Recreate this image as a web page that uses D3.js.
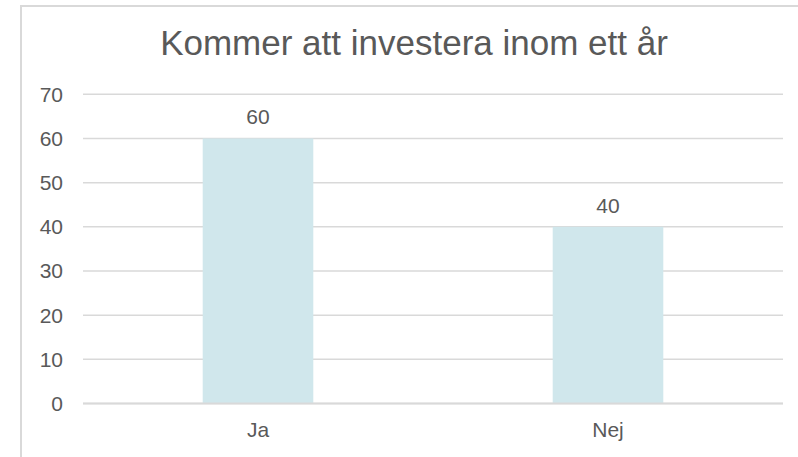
<!DOCTYPE html>
<html lang="sv">
<head>
<meta charset="utf-8">
<title>Kommer att investera inom ett år</title>
<script src="https://cdn.jsdelivr.net/npm/d3@7"></script>
<style>
  body { margin: 0; background: #fff; }
  text { font-family: Arial, "Liberation Sans", sans-serif; fill: #595959; }
</style>
</head>
<body>
<script>
// chart data
const categories = ["Ja", "Nej"];
const values = [60, 40];
const yTicks = [0, 10, 20, 30, 40, 50, 60, 70];
const chartTitle = "Kommer att investera inom ett år";

const W = 798, H = 457;
const plotLeft = 83, plotRight = 783, plotTop = 94.3, plotBottom = 403.5;

const svg = d3.select("body").append("svg")
  .attr("width", W)
  .attr("height", H);

// chart frame (runs off the picture to the right and bottom)
svg.append("rect")
  .attr("x", 21).attr("y", 6)
  .attr("width", 800).attr("height", 470)
  .attr("fill", "#fff")
  .attr("stroke", "#d9d9d9")
  .attr("stroke-width", 2);

const x = d3.scaleBand()
  .domain(categories)
  .range([plotLeft, plotRight])
  .paddingInner(0.684)
  .paddingOuter(0.342);

const y = d3.scaleLinear()
  .domain([0, 70])
  .range([plotBottom, plotTop]);

// gridlines
svg.append("g")
  .selectAll("line")
  .data(yTicks)
  .join("line")
  .attr("x1", plotLeft).attr("x2", plotRight)
  .attr("y1", d => y(d)).attr("y2", d => y(d))
  .attr("stroke", "#d9d9d9")
  .attr("stroke-width", 1.5);

// y labels
svg.append("g")
  .selectAll("text")
  .data(yTicks)
  .join("text")
  .attr("x", 63)
  .attr("y", d => y(d))
  .attr("dy", "0.35em")
  .attr("text-anchor", "end")
  .style("font-size", "21px")
  .text(d => d);

// bars
svg.append("g")
  .selectAll("rect")
  .data(values)
  .join("rect")
  .attr("x", (d, i) => x(categories[i]))
  .attr("y", d => y(d))
  .attr("width", x.bandwidth())
  .attr("height", d => y(0) - y(d))
  .attr("fill", "#d0e7ec");

// data labels
svg.append("g")
  .selectAll("text")
  .data(values)
  .join("text")
  .attr("x", (d, i) => x(categories[i]) + x.bandwidth() / 2)
  .attr("y", d => y(d) - 14)
  .attr("text-anchor", "middle")
  .style("font-size", "21px")
  .text(d => d);

// x axis line
svg.append("line")
  .attr("x1", plotLeft).attr("x2", plotRight)
  .attr("y1", y(0)).attr("y2", y(0))
  .attr("stroke", "#d9d9d9")
  .attr("stroke-width", 2);

// category labels
svg.append("g")
  .selectAll("text")
  .data(categories)
  .join("text")
  .attr("x", d => x(d) + x.bandwidth() / 2)
  .attr("y", 437)
  .attr("text-anchor", "middle")
  .style("font-size", "21px")
  .text(d => d);

// title
svg.append("text")
  .attr("x", 414)
  .attr("y", 55)
  .attr("text-anchor", "middle")
  .style("font-size", "35px")
  .text(chartTitle);
</script>
</body>
</html>
